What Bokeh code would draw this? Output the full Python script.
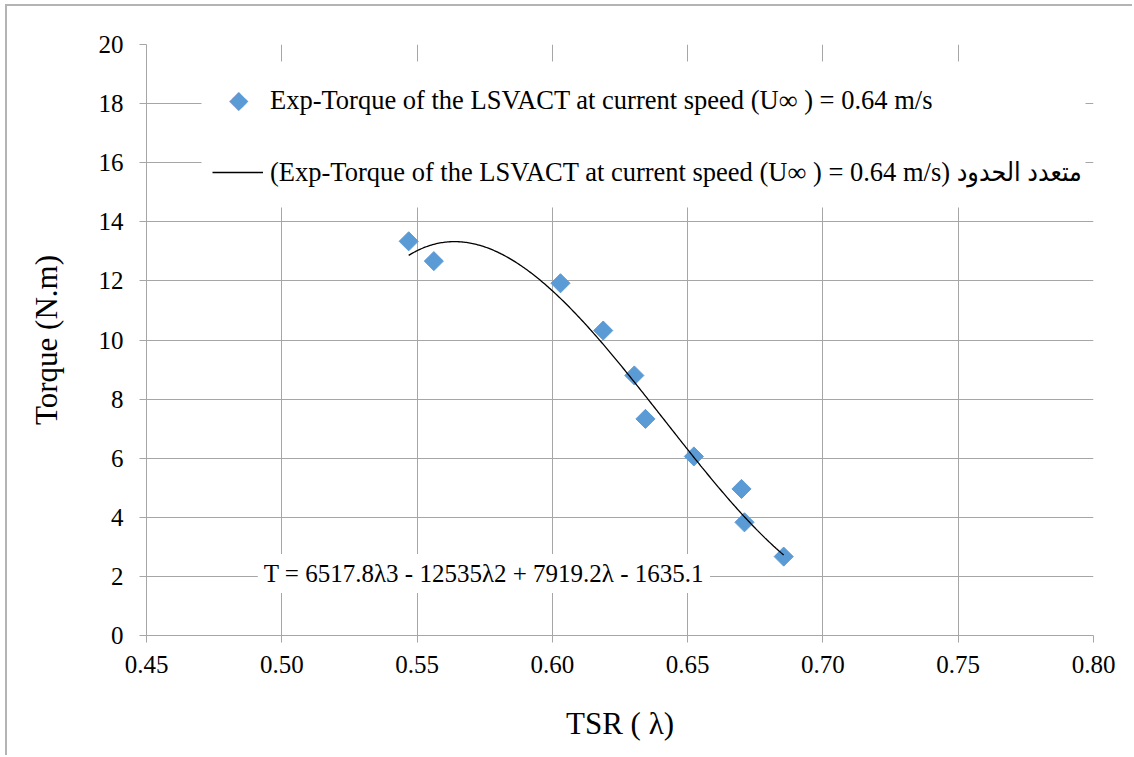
import numpy as np
from bokeh.plotting import figure
from bokeh.models import (Range1d, FixedTicker, NumeralTickFormatter, Legend,
                          LegendItem, Label, BoxAnnotation)
from bokeh.embed import file_html
from bokeh.resources import INLINE

# Measured torque versus tip speed ratio
tsr = [0.5469, 0.5562, 0.6030, 0.6188, 0.6303, 0.6344, 0.6523, 0.6699, 0.6710, 0.6855]
torque = [13.34, 12.67, 11.92, 10.32, 8.80, 7.33, 6.06, 4.96, 3.83, 2.67]

# Cubic trend line coefficients (highest power first)
poly_coeffs = [6517.8, -12535.0, 7919.2, -1635.1]

x_ticks = [0.45, 0.50, 0.55, 0.60, 0.65, 0.70, 0.75, 0.80]
y_ticks = [0, 2, 4, 6, 8, 10, 12, 14, 16, 18, 20]

series_label = "Exp-Torque of the LSVACT at current speed (U\u221e ) = 0.64 m/s"
trend_label = "(" + series_label + ") متعدد الحدود"
equation_text = "T = 6517.8\u03bb3 - 12535\u03bb2 + 7919.2\u03bb - 1635.1"
x_title = "TSR ( \u03bb)"
y_title = "Torque (N.m)"

SERIF = "'Liberation Serif', 'Times New Roman', serif"
LEGEND_FONT = "'Liberation Serif', 'DejaVu Sans Condensed', serif"
GRID = "#a6a6a6"
BLUE = "#5b9bd5"

lam = np.linspace(min(tsr), max(tsr), 300)
trend = np.polyval(poly_coeffs, lam)

p = figure(width=1127, height=751,
           x_range=Range1d(0.45, 0.80), y_range=Range1d(0, 20),
           output_backend="svg", toolbar_location=None,
           min_border_left=139, min_border_right=41,
           min_border_top=38, min_border_bottom=122)
p.styles = {"margin-left": "5px", "margin-top": "4px",
            "border-left": "2px solid #b4b4b4", "border-top": "2px solid #b4b4b4"}
p.outline_line_color = None
p.background_fill_color = "white"
p.border_fill_color = "white"

sc = p.scatter(tsr, torque, marker="square", angle=np.pi / 4, size=13.5,
               fill_color=BLUE, line_color=BLUE)
ln = p.line(lam, trend, line_color="black", line_width=1.3)

# legend key for the measured series: an empty, invisible renderer so the
# legend reserves the slot, with a rotated-square symbol drawn on top
key = p.scatter(x=[], y=[], marker="square", fill_alpha=0, line_alpha=0)

# axes
p.xaxis.ticker = FixedTicker(ticks=x_ticks)
p.xaxis.formatter = NumeralTickFormatter(format="0.00")
p.yaxis.ticker = FixedTicker(ticks=y_ticks)
for ax in (p.xaxis[0], p.yaxis[0]):
    ax.axis_line_color = GRID
    ax.major_tick_line_color = GRID
    ax.minor_tick_line_color = None
    ax.major_tick_out = 7
    ax.major_tick_in = 0
    ax.major_label_text_font = SERIF
    ax.major_label_text_font_size = "25px"
    ax.major_label_text_color = "black"
    ax.axis_label_text_font = SERIF
    ax.axis_label_text_font_size = "31px"
    ax.axis_label_text_font_style = "normal"
    ax.axis_label_text_color = "black"
p.xaxis.axis_label = x_title
p.yaxis.axis_label = y_title
p.xaxis.major_label_standoff = 13
p.xaxis.axis_label_standoff = 30
p.yaxis.major_label_standoff = 16
p.yaxis.axis_label_standoff = 32

p.grid.grid_line_color = GRID
p.grid.grid_line_width = 1

# white panel behind the legend (hides the grid lines there)
legend_panel = BoxAnnotation(left=55, right=939, bottom=428, top=574,
                             left_units="screen", right_units="screen",
                             bottom_units="screen", top_units="screen",
                             fill_color="white", fill_alpha=1.0,
                             line_color=None)
p.add_layout(legend_panel)

legend = Legend(items=[LegendItem(label=series_label, renderers=[key]),
                       LegendItem(label=trend_label, renderers=[ln])],
                location=(66, 447), orientation="vertical",
                border_line_color=None, background_fill_alpha=0.0,
                label_text_font=LEGEND_FONT, label_text_font_size="26.5px",
                label_text_color="black",
                glyph_width=51, glyph_height=32, label_standoff=7,
                spacing=40, padding=12, margin=0)
p.add_layout(legend)

# symbol for the measured-series legend key, centred in the key slot
marker_key = Label(x=0.484, y=18.15, text="\u25c6", text_align="center",
                   text_baseline="middle", text_font="DejaVu Sans",
                   text_font_size="25px", text_color=BLUE)
p.add_layout(marker_key)

eq = Label(x=0.5747, y=2.1, text=equation_text, text_align="center",
           text_baseline="middle", text_font=SERIF, text_font_size="25px",
           text_color="black", background_fill_color="white", padding=6)
p.add_layout(eq)

open("out.html", "w").write(file_html(p, INLINE))
